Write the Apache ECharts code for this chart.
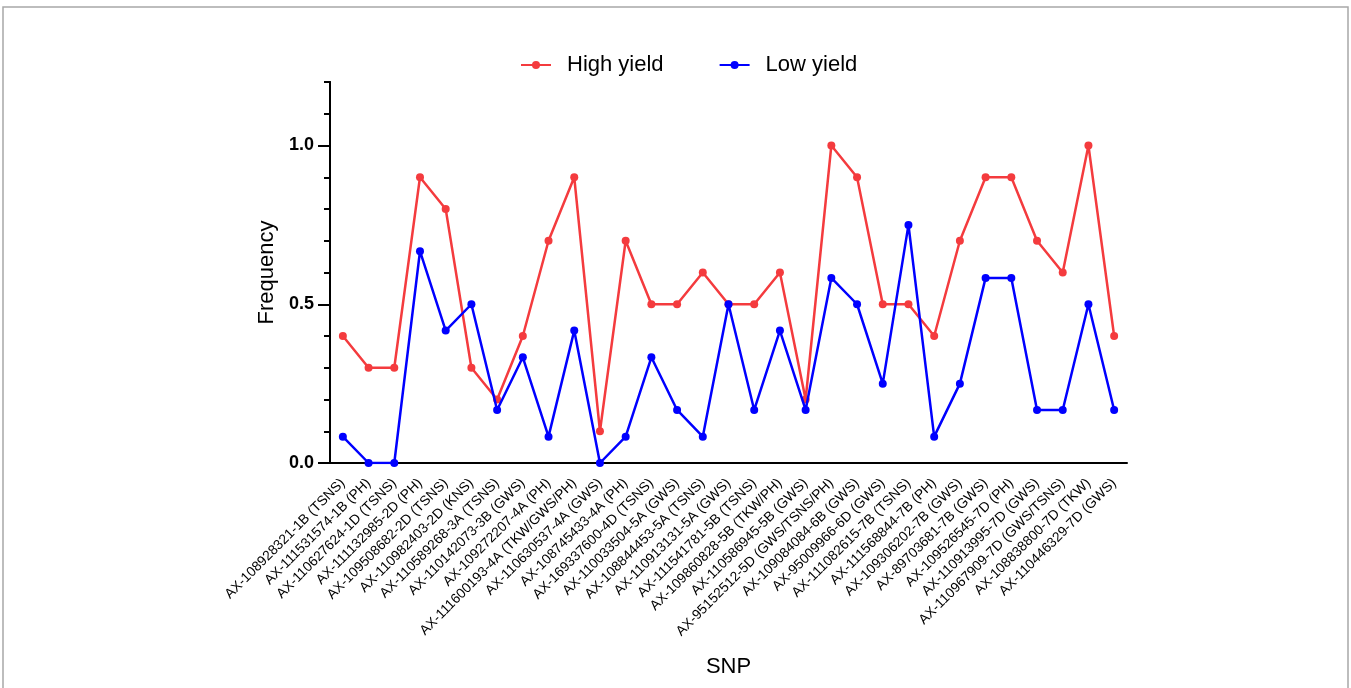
<!DOCTYPE html>
<html>
<head>
<meta charset="utf-8">
<script src="https://cdn.jsdelivr.net/npm/echarts@6/dist/echarts.min.js"></script>
<style>
  html, body { margin: 0; padding: 0; background: #fff; }
  #chart { width: 1351px; height: 688px; }
</style>
</head>
<body>
<div id="chart"></div>
<script>
// SNP markers (x categories)
const snpList = [
  "AX-108928321-1B (TSNS)", "AX-111531574-1B (PH)", "AX-110627624-1D (TSNS)",
  "AX-111132985-2D (PH)", "AX-109508682-2D (TSNS)", "AX-110982403-2D (KNS)",
  "AX-110589268-3A (TSNS)", "AX-110142073-3B (GWS)", "AX-109272207-4A (PH)",
  "AX-111600193-4A (TKW/GWS/PH)", "AX-110630537-4A (GWS)", "AX-108745433-4A (PH)",
  "AX-169337600-4D (TSNS)", "AX-110033504-5A (GWS)", "AX-108844453-5A (TSNS)",
  "AX-110913131-5A (GWS)", "AX-111541781-5B (TSNS)", "AX-109860828-5B (TKW/PH)",
  "AX-110586945-5B (GWS)", "AX-95152512-5D (GWS/TSNS/PH)", "AX-109084084-6B (GWS)",
  "AX-95009966-6D (GWS)", "AX-111082615-7B (TSNS)", "AX-111568844-7B (PH)",
  "AX-109306202-7B (GWS)", "AX-89703681-7B (GWS)", "AX-109526545-7D (PH)",
  "AX-110913995-7D (GWS)", "AX-110967909-7D (GWS/TSNS)", "AX-108838800-7D (TKW)",
  "AX-110446329-7D (GWS)"
];

const highYield = [
  0.4, 0.3, 0.3, 0.9, 0.8, 0.3, 0.2, 0.4, 0.7, 0.9, 0.1,
  0.7, 0.5, 0.5, 0.6, 0.5, 0.5, 0.6, 0.2, 1.0, 0.9,
  0.5, 0.5, 0.4, 0.7, 0.9, 0.9, 0.7, 0.6, 1.0, 0.4
];

const lowYield = [
  0.083, 0, 0, 0.667, 0.417, 0.5, 0.167, 0.333, 0.083, 0.417, 0,
  0.083, 0.333, 0.167, 0.083, 0.5, 0.167, 0.417, 0.167, 0.583, 0.5,
  0.25, 0.75, 0.083, 0.25, 0.583, 0.583, 0.167, 0.167, 0.5, 0.167
];

// y axis ticks
const yMajorTicks = [0, 0.5, 1.0];
const yMinorTicks = [0.1, 0.2, 0.3, 0.4, 0.6, 0.7, 0.8, 0.9, 1.1, 1.2];

const RED = "#f43b3e";
const BLUE = "#0000ff";

let chart = echarts.init(document.getElementById("chart"));

let baseY = {
  type: "value",
  min: 0,
  max: 1.2,
  position: "left",
  offset: 0,
  axisLine: { show: true, lineStyle: { color: "#000", width: 2 } },
  splitLine: { show: false },
};

let option = {
  animation: false,
  backgroundColor: "#fff",
  textStyle: { fontFamily: "Liberation Sans, Arial, sans-serif" },
  graphic: [
    {
      type: "rect",
      shape: { x: 3, y: 7, width: 1345, height: 700 },
      style: { fill: "none", stroke: "#a8a8a8", lineWidth: 1.5 },
      silent: true,
    },
  ],
  legend: {
    top: 49,
    left: 515,
    itemWidth: 30,
    itemHeight: 10,
    itemGap: 55,
    textStyle: {
      fontSize: 22,
      color: "#000",
      padding: [0, 0, 0, 11],
    },
    data: ["High yield", "Low yield"],
  },
  grid: {
    left: 330,
    right: 224,
    top: 82,
    bottom: 225,
    containLabel: false,
  },
  xAxis: {
    type: "category",
    data: snpList,
    boundaryGap: true,
    name: "SNP",
    nameLocation: "middle",
    nameGap: 193,
    nameTextStyle: { fontSize: 22, color: "#000" },
    axisLine: { lineStyle: { color: "#000", width: 2 } },
    axisTick: {
      alignWithLabel: true,
      length: 6,
      lineStyle: { color: "#000", width: 2 },
    },
    axisLabel: {
      rotate: 45,
      interval: 0,
      fontSize: 13.8,
      color: "#000",
      margin: 18,
    },
  },
  yAxis: [
    Object.assign({}, baseY, {
      name: "Frequency",
      nameLocation: "middle",
      nameGap: 49,
      nameTextStyle: { fontSize: 22, color: "#000" },
      axisTick: {
        show: true,
        length: 12,
        customValues: yMajorTicks,
        lineStyle: { color: "#000", width: 2 },
      },
      axisLabel: {
        customValues: yMajorTicks,
        fontSize: 18,
        fontWeight: "bold",
        color: "#000",
        margin: 16,
        formatter: (v) => v.toFixed(1),
      },
    }),
    // second axis on the same line, carrying the short minor ticks
    Object.assign({}, baseY, {
      axisTick: {
        show: true,
        length: 6,
        customValues: yMinorTicks,
        lineStyle: { color: "#000", width: 2 },
      },
      axisLabel: {
        customValues: yMinorTicks,
        color: "rgba(0,0,0,0)",
        formatter: () => "",
      },
    }),
  ],
  series: [
    {
      name: "High yield",
      type: "line",
      data: highYield,
      symbol: "circle",
      symbolSize: 8,
      lineStyle: { color: RED, width: 2.5 },
      itemStyle: { color: RED },
      z: 3,
    },
    {
      name: "Low yield",
      type: "line",
      data: lowYield,
      symbol: "circle",
      symbolSize: 8,
      lineStyle: { color: BLUE, width: 2.5 },
      itemStyle: { color: BLUE },
      z: 4,
    },
  ],
};

chart.setOption(option);
</script>
</body>
</html>
